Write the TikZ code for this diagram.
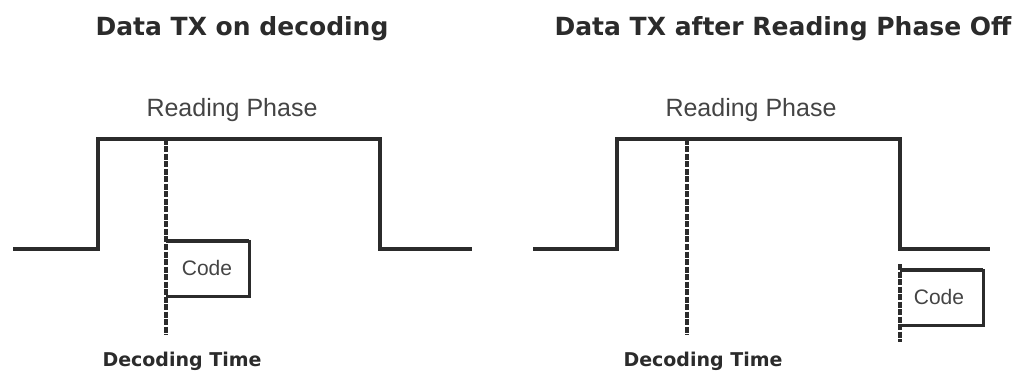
\documentclass[tikz,border=0pt]{standalone}
\usepackage{fontspec}
\setmainfont{Liberation Sans}
\newfontfamily\headfont{DejaVu Sans}
\definecolor{ink}{HTML}{2B2B2B}
\definecolor{lightink}{HTML}{444444}
\tikzset{
  wave/.style={line width=4.8pt,ink},
  decline/.style={line width=4.8pt,ink,dash pattern=on 6pt off 1.5pt},
  boxedge/.style={line width=3pt,ink},
  heading/.style={font=\headfont\bfseries\fontsize{25}{28}\selectfont,text=ink},
  phaselabel/.style={font=\fontsize{25}{28}\selectfont,text=lightink},
  timelabel/.style={font=\headfont\bfseries\fontsize{19}{21}\selectfont,text=ink},
  codelabel/.style={font=\fontsize{21}{24}\selectfont,text=lightink}
}
\begin{document}
\begin{tikzpicture}[x=1pt,y=-1pt]
  \useasboundingbox (0,0) rectangle (1020,374);

  % Left panel: data sent while decoding
  \node[heading] (titleL) at (242,29) {Data TX on decoding};
  \node[phaselabel] (phaseL) at (232,110) {Reading Phase};

  % Reading phase pulse
  \draw[wave] (13,249) -- (98,249) -- (98,139) -- (380,139) -- (380,249) -- (472,249);

  % Decoding instant
  \draw[decline] (166,139) -- (166,335);

  % Code burst
  \draw[wave] (166,241) -- (249,241);
  \draw[boxedge] (249,240) -- (249,296) -- (166,296);
  \node[codelabel] (codeL) at (207,268) {Code};

  \node[timelabel] (timeL) at (182,361) {Decoding Time};

  % Right panel: data sent after the reading phase ends
  \node[heading] (titleR) at (783,29) {Data TX after Reading Phase Off};
  \node[phaselabel] (phaseR) at (751,110) {Reading Phase};

  % Reading phase pulse
  \draw[wave] (533,249) -- (617,249) -- (617,139) -- (900,139) -- (900,249) -- (990,249);

  % Decoding instant and end of phase
  \draw[decline] (687,139) -- (687,335);
  \draw[decline] (900,264) -- (900,342);

  % Code burst
  \draw[wave] (900,270) -- (983,270);
  \draw[boxedge] (983,269) -- (983,325) -- (900,325);
  \node[codelabel] (codeR) at (939,297) {Code};

  \node[timelabel] (timeR) at (703,361) {Decoding Time};
\end{tikzpicture}
\end{document}
